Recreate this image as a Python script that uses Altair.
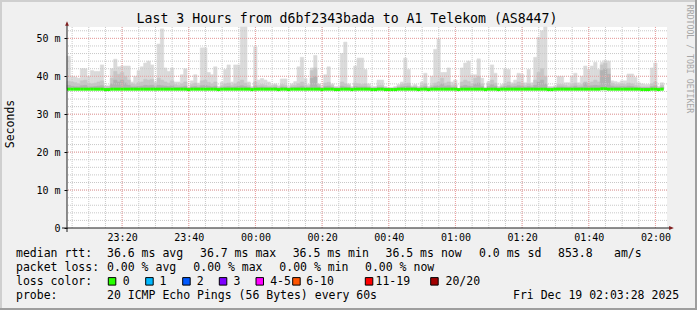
import altair as alt
import pandas as pd

MONO = "DejaVu Sans Mono"

# ---------------- data ----------------
# smoke: top of the ping spread per minute (ms)
ping_max = [
    45.3, 40.0, 39.8, 39.5, 42.0, 42.0, 40.0, 41.5, 41.3, 41.3,
    43.0, 37.5, 37.5, 42.0, 44.5, 42.5, 42.7, 42.7, 42.7, 38.5,
    40.0, 41.5, 42.5, 43.5, 44.0, 43.0, 38.5, 48.5, 52.5, 42.2,
    41.3, 42.2, 38.5, 38.5, 40.4, 42.0, 37.2, 38.8, 40.4, 38.2,
    47.5, 47.5, 41.0, 40.4, 42.5, 37.3, 38.5, 41.8, 43.0, 38.5,
    43.0, 43.0, 53.0, 53.0, 38.5, 37.3, 47.8, 39.0, 39.4, 39.0,
    38.5, 37.8, 38.0, 37.5, 39.3, 39.3, 37.3, 38.0, 38.6, 42.5,
    45.0, 39.4, 37.8, 42.2, 45.5, 38.0, 37.3, 40.4, 42.5, 38.0,
    37.3, 37.3, 46.0, 49.0, 38.0, 37.3, 42.7, 44.8, 44.8, 41.8,
    38.0, 37.3, 37.3, 39.0, 39.0, 37.3, 37.0, 37.0, 37.3, 37.8,
    38.5, 44.8, 41.8, 37.5, 37.8, 37.3, 38.5, 40.8, 37.3, 40.0,
    47.1, 49.8, 41.0, 41.0, 42.2, 38.5, 39.0, 36.8, 42.2, 43.5,
    44.0, 40.4, 40.4, 44.6, 39.5, 37.0, 38.6, 43.0, 40.8, 37.3,
    37.8, 42.0, 41.8, 38.3, 39.0, 40.8, 40.5, 38.3, 41.8, 38.3,
    45.0, 50.3, 52.0, 53.0, 37.3, 37.3, 37.5, 40.0, 40.0, 38.3,
    38.3, 40.0, 40.8, 38.3, 40.0, 42.7, 41.8, 42.7, 43.7, 41.8,
    43.7, 44.2, 44.0, 38.8, 38.6, 38.4, 38.8, 38.8, 40.6, 40.6,
    39.7, 38.3, 38.0, 37.8, 37.8, 42.2, 43.5, 37.3, 38.3,
]
# middle smoke band
ping_mid = [
    38.7, 38.5, 38.3, 38.0, 38.8, 39.0, 38.2, 38.0, 38.2, 38.5,
    38.8, 37.3, 37.3, 39.5, 41.3, 40.5, 41.0, 40.0, 39.0, 38.0,
    37.8, 38.3, 38.5, 39.2, 39.0, 39.2, 37.8, 39.5, 39.0, 38.5,
    38.2, 38.8, 37.8, 37.6, 38.0, 38.5, 37.0, 37.8, 38.2, 37.6,
    38.8, 39.0, 38.4, 38.0, 38.5, 37.0, 37.5, 38.0, 38.2, 37.6,
    38.0, 38.5, 39.0, 38.2, 37.6, 37.0, 38.5, 37.6, 37.8, 37.6,
    37.4, 37.4, 37.6, 37.2, 37.8, 37.6, 37.0, 37.5, 37.6, 38.0,
    38.5, 37.6, 37.4, 41.5, 42.2, 37.8, 37.0, 38.2, 38.4, 37.6,
    37.0, 37.0, 38.5, 38.0, 37.6, 37.0, 38.2, 38.0, 37.8, 38.0,
    37.4, 37.0, 37.0, 37.5, 37.6, 37.0, 36.9, 36.9, 37.0, 37.4,
    37.8, 38.0, 38.2, 37.2, 37.4, 37.0, 37.6, 38.0, 37.0, 37.6,
    38.2, 38.5, 39.5, 38.2, 38.5, 37.6, 37.8, 36.7, 38.5, 39.0,
    38.6, 38.0, 39.5, 40.0, 38.0, 36.9, 38.0, 39.0, 38.2, 37.0,
    37.4, 38.0, 38.5, 37.8, 38.0, 38.5, 38.2, 37.6, 38.0, 37.6,
    39.0, 41.0, 42.0, 40.0, 37.0, 37.0, 37.2, 37.8, 37.8, 37.6,
    37.4, 37.8, 38.2, 37.6, 37.8, 38.5, 38.2, 38.5, 39.0, 38.5,
    43.0, 43.5, 42.0, 38.2, 37.8, 37.8, 38.0, 37.8, 38.2, 38.0,
    37.6, 37.4, 37.2, 37.2, 37.2, 38.0, 38.5, 37.0, 37.6,
]
# dark smoke band next to the median
ping_low = [
    37.6, 37.4, 37.2, 37.2, 37.5, 37.6, 37.2, 37.2, 37.3, 37.4,
    37.5, 36.9, 36.9, 38.0, 39.0, 38.5, 39.0, 38.2, 37.6, 37.2,
    37.2, 37.3, 37.4, 37.6, 37.5, 37.6, 37.2, 37.6, 37.5, 37.4,
    37.3, 37.5, 37.1, 37.1, 37.2, 37.4, 36.9, 37.2, 37.3, 37.1,
    37.5, 37.6, 37.4, 37.2, 37.4, 36.9, 37.1, 37.2, 37.3, 37.1,
    37.2, 37.4, 37.5, 37.3, 37.1, 36.9, 37.4, 37.1, 37.2, 37.1,
    37.0, 37.0, 37.1, 36.9, 37.2, 37.1, 36.9, 37.0, 37.1, 37.2,
    37.4, 37.1, 37.0, 39.5, 40.0, 37.2, 36.9, 37.3, 37.4, 37.1,
    36.9, 36.9, 37.4, 37.2, 37.1, 36.9, 37.3, 37.2, 37.2, 37.2,
    37.0, 36.9, 36.9, 37.0, 37.1, 36.9, 36.8, 36.8, 36.9, 37.0,
    37.2, 37.3, 37.4, 37.0, 37.0, 36.9, 37.1, 37.3, 36.9, 37.1,
    37.4, 37.5, 38.0, 37.4, 37.5, 37.1, 37.2, 36.7, 37.4, 37.6,
    37.4, 37.3, 38.0, 38.2, 37.3, 36.8, 37.3, 37.8, 37.4, 36.9,
    37.0, 37.3, 37.5, 37.2, 37.3, 37.5, 37.4, 37.1, 37.3, 37.1,
    37.6, 38.5, 39.0, 38.0, 36.9, 36.9, 37.0, 37.2, 37.2, 37.1,
    37.0, 37.2, 37.4, 37.1, 37.2, 38.2, 37.4, 37.5, 37.6, 37.5,
    41.5, 42.0, 40.5, 37.4, 37.2, 37.2, 37.3, 37.2, 37.4, 37.3,
    37.1, 37.0, 37.0, 37.0, 37.0, 37.3, 37.5, 36.9, 37.1,
]
# median rtt (green line)
median = [
    36.6, 36.6, 36.6, 36.6, 36.6, 36.6, 36.6, 36.6, 36.6, 36.6,
    36.6, 36.5, 36.5, 36.6, 36.6, 36.6, 36.6, 36.6, 36.6, 36.6,
    36.6, 36.6, 36.6, 36.6, 36.6, 36.6, 36.6, 36.6, 36.6, 36.6,
    36.6, 36.6, 36.6, 36.6, 36.6, 36.6, 36.5, 36.6, 36.6, 36.6,
    36.6, 36.6, 36.6, 36.6, 36.6, 36.5, 36.6, 36.6, 36.6, 36.6,
    36.6, 36.6, 36.6, 36.6, 36.6, 36.5, 36.6, 36.6, 36.6, 36.6,
    36.6, 36.6, 36.6, 36.5, 36.6, 36.6, 36.5, 36.6, 36.6, 36.6,
    36.6, 36.6, 36.6, 36.6, 36.6, 36.6, 36.5, 36.6, 36.6, 36.6,
    36.5, 36.5, 36.6, 36.6, 36.6, 36.5, 36.6, 36.6, 36.6, 36.6,
    36.6, 36.5, 36.5, 36.6, 36.6, 36.5, 36.5, 36.5, 36.5, 36.6,
    36.6, 36.6, 36.6, 36.6, 36.6, 36.5, 36.6, 36.6, 36.5, 36.6,
    36.6, 36.6, 36.6, 36.6, 36.6, 36.6, 36.6, 36.5, 36.6, 36.6,
    36.6, 36.6, 36.6, 36.6, 36.6, 36.5, 36.6, 36.6, 36.6, 36.5,
    36.6, 36.6, 36.6, 36.6, 36.6, 36.6, 36.6, 36.6, 36.6, 36.6,
    36.6, 36.6, 36.6, 36.6, 36.5, 36.5, 36.6, 36.6, 36.6, 36.6,
    36.6, 36.6, 36.6, 36.6, 36.6, 36.6, 36.6, 36.6, 36.6, 36.6,
    36.7, 36.7, 36.6, 36.6, 36.6, 36.6, 36.6, 36.6, 36.6, 36.6,
    36.6, 36.6, 36.5, 36.5, 36.5, 36.6, 36.6, 36.5, 36.6,
]

x_tick_values = [20, 40, 60, 80, 100, 120, 140, 160, 180]   # minutes after 23:00
x_tick_labels = ["23:20", "23:40", "00:00", "00:20", "00:40",
                 "01:00", "01:20", "01:40", "02:00"]
y_tick_values = [0, 10, 20, 30, 40, 50]
y_tick_labels = ["0\u00a0\u00a0", "10 m", "20 m", "30 m", "40 m", "50 m"]

loss_labels = ["0", "1", "2", "3", "4-5", "6-10", "11-19", "20/20"]
loss_colors = ["#26ff00", "#00b8ff", "#0059ff", "#7e00ff",
               "#ff00ff", "#ff5500", "#ff0000", "#a10000"]

title_text = "Last 3 Hours from d6bf2343bada to A1 Telekom (AS8447)"
row_rtt = ["median rtt:", "36.6 ms avg", "36.7 ms max", "36.5 ms min",
           "36.5 ms now", "0.0 ms sd", "853.8", "am/s"]
row_loss = ["packet loss:", "0.00 % avg", "0.00 % max", "0.00 % min", "0.00 % now"]
row_probe = ["probe:", "20 ICMP Echo Pings (56 Bytes) every 60s",
             "Fri Dec 19 02:03:28 2025"]

# ---------------- layout ----------------
W, H = 600, 201
PL, PT = 67, 27
PR, PB = 697 - PL - W, 310 - PT - H

start_min = 3 + 28 / 60.0          # 23:03:28
span = 180
t0 = [start_min + i for i in range(len(ping_max))]
df = pd.DataFrame({
    "t0": t0, "t1": [t + 1 for t in t0],
    "hi": ping_max, "mid": ping_mid, "low": ping_low, "med": median,
})

xs = alt.Scale(domain=[start_min, start_min + span], nice=False, zero=False)
ys = alt.Scale(domain=[0, 53], nice=False, zero=False)


def ternary(values, labels):
    expr = "''"
    for v, l in reversed(list(zip(values, labels))):
        expr = f"datum.value == {v} ? '{l}' : ({expr})"
    return expr


x_axis = alt.Axis(values=x_tick_values, labelExpr=ternary(x_tick_values, x_tick_labels),
                  title=None, domain=False, grid=False, ticks=False,
                  labelFont=MONO, labelFontSize=10, labelColor="#000000",
                  labelPadding=4, labelFlush=False, labelOverlap=False)
y_axis = alt.Axis(values=y_tick_values, labelExpr=ternary(y_tick_values, y_tick_labels),
                  title=None, domain=False, grid=False, ticks=True, tickSize=3,
                  tickColor="#000000", labelFont=MONO, labelFontSize=10,
                  labelColor="#000000", labelPadding=4, labelFlush=False,
                  labelOverlap=False)

base = alt.Chart(df)


def smoke(field, color):
    return base.mark_rect(color=color, stroke=color, strokeWidth=0.6).encode(
        x=alt.X("t0:Q", scale=xs, axis=x_axis),
        x2="t1:Q",
        y=alt.Y(f"{field}:Q", scale=ys, axis=y_axis),
        y2="med:Q",
    )


smoke_hi = smoke("hi", "#dadada")
smoke_mid = smoke("mid", "#c6c6c6")
smoke_low = smoke("low", "#b2b2b2")

minor_x = pd.DataFrame({"v": [m for m in range(5, 185, 5)]})
major_x = pd.DataFrame({"v": x_tick_values})
minor_y = pd.DataFrame({"v": [m for m in range(2, 54, 2)]})
major_y = pd.DataFrame({"v": [10, 20, 30, 40, 50]})

MINOR = "#c8c8c8"
MAJOR = "#eda0a0"
grid_minor_x = alt.Chart(minor_x).mark_rule(color=MINOR, strokeDash=[1, 1], strokeWidth=1).encode(
    x=alt.X("v:Q", scale=xs, axis=x_axis))
grid_minor_y = alt.Chart(minor_y).mark_rule(color=MINOR, strokeDash=[1, 1], strokeWidth=1).encode(
    y=alt.Y("v:Q", scale=ys, axis=y_axis))
grid_major_x = alt.Chart(major_x).mark_rule(color=MAJOR, strokeDash=[1, 1], strokeWidth=1).encode(
    x=alt.X("v:Q", scale=xs, axis=x_axis))
grid_major_y = alt.Chart(major_y).mark_rule(color=MAJOR, strokeDash=[1, 1], strokeWidth=1).encode(
    y=alt.Y("v:Q", scale=ys, axis=y_axis))

median_line = base.mark_rule(color="#26ff00", strokeWidth=3).encode(
    x=alt.X("t0:Q", scale=xs, axis=x_axis),
    x2="t1:Q",
    y=alt.Y("med:Q", scale=ys, axis=y_axis),
)

# ---------------- frame, axis lines, arrows (pixel space) ----------------
def px(v):
    return v - PL


def py(v):
    return v - PT


frame = pd.DataFrame({
    "a": [px(0), px(0), px(695), px(0)],
    "b": [px(697), px(2), px(697), px(697)],
    "c": [py(0), py(0), py(0), py(308)],
    "d": [py(2), py(310), py(310), py(310)],
    "col": ["#cfcfcf", "#cfcfcf", "#9e9e9e", "#9e9e9e"],
})
frame_layer = alt.Chart(frame).mark_rect(strokeWidth=0).encode(
    x=alt.X("a:Q", scale=None, axis=None), x2="b:Q",
    y=alt.Y("c:Q", scale=None, axis=None), y2="d:Q",
    color=alt.Color("col:N", scale=None),
)

axis_lines = pd.DataFrame({
    "a": [px(62), px(67)], "b": [px(670), px(67)],
    "c": [py(228), py(232)], "d": [py(228), py(25)],
})
axis_layer = alt.Chart(axis_lines).mark_rule(color="#1f1f1f", strokeWidth=1).encode(
    x=alt.X("a:Q", scale=None, axis=None), x2="b:Q",
    y=alt.Y("c:Q", scale=None, axis=None), y2="d:Q",
)

arrow_r = alt.Chart(pd.DataFrame({"a": [px(671.5)], "c": [py(228)]})).mark_point(
    shape="M-1,-0.8L1,0L-1,0.8Z", filled=True, color="#7f1f1f", size=22, opacity=1).encode(
    x=alt.X("a:Q", scale=None, axis=None), y=alt.Y("c:Q", scale=None, axis=None))
arrow_u = alt.Chart(pd.DataFrame({"a": [px(67)], "c": [py(23.5)]})).mark_point(
    shape="M-0.8,1L0,-1L0.8,1Z", filled=True, color="#7f1f1f", size=22, opacity=1).encode(
    x=alt.X("a:Q", scale=None, axis=None), y=alt.Y("c:Q", scale=None, axis=None))

# ---------------- texts ----------------
rtt_x = [16, 107, 200, 292.7, 385.5, 479, 558, 614]
loss_x = [16, 107, 193.3, 279.3, 365]
probe_x = [16, 107, 513]
loss_text_x = [122.8, 159.5, 196.8, 233.5, 270.2, 306.2, 375.5, 445.5]
loss_sq_x = [108.3, 145.7, 182.7, 219.3, 256.0, 292.7, 365.3, 430.7]

rows = []
for t, x in zip(row_rtt, rtt_x):
    rows.append({"t": t, "a": px(x), "c": py(254)})
for t, x in zip(row_loss, loss_x):
    rows.append({"t": t, "a": px(x), "c": py(268.3)})
rows.append({"t": "loss color:", "a": px(16), "c": py(281.7)})
for t, x in zip(loss_labels, loss_text_x):
    rows.append({"t": t, "a": px(x), "c": py(281.7)})
for t, x in zip(row_probe, probe_x):
    rows.append({"t": t, "a": px(x), "c": py(296)})
legend_text = alt.Chart(pd.DataFrame(rows)).mark_text(
    font=MONO, fontSize=11.5, align="left", baseline="middle", color="#000000").encode(
    x=alt.X("a:Q", scale=None, axis=None), y=alt.Y("c:Q", scale=None, axis=None), text="t:N")

squares = pd.DataFrame({
    "a": [px(x) for x in loss_sq_x],
    "b": [px(x + 7.5) for x in loss_sq_x],
    "c": [py(277.6)] * len(loss_sq_x),
    "d": [py(285.1)] * len(loss_sq_x),
    "col": loss_colors,
})
square_layer = alt.Chart(squares).mark_rect(stroke="#000000", strokeWidth=1).encode(
    x=alt.X("a:Q", scale=None, axis=None), x2="b:Q",
    y=alt.Y("c:Q", scale=None, axis=None), y2="d:Q",
    color=alt.Color("col:N", scale=None),
)

title_layer = alt.Chart(pd.DataFrame({"t": [title_text], "a": [px(347)], "c": [py(19)]})).mark_text(
    font=MONO, fontSize=13.2, align="center", baseline="middle", color="#000000").encode(
    x=alt.X("a:Q", scale=None, axis=None), y=alt.Y("c:Q", scale=None, axis=None), text="t:N")

ytitle_layer = alt.Chart(pd.DataFrame({"t": ["Seconds"], "a": [px(10.5)], "c": [py(124)]})).mark_text(
    font=MONO, fontSize=11.5, align="center", baseline="middle", angle=270, color="#000000").encode(
    x=alt.X("a:Q", scale=None, axis=None), y=alt.Y("c:Q", scale=None, axis=None), text="t:N")

credit_layer = alt.Chart(pd.DataFrame({"t": ["RRDTOOL / TOBI OETIKER"], "a": [px(688.5)], "c": [py(59)]})).mark_text(
    font=MONO, fontSize=8.2, align="center", baseline="middle", angle=90, color="#a6a6a6").encode(
    x=alt.X("a:Q", scale=None, axis=None), y=alt.Y("c:Q", scale=None, axis=None), text="t:N")

chart = alt.layer(
    smoke_hi, smoke_mid, smoke_low,
    grid_minor_x, grid_minor_y, grid_major_x, grid_major_y,
    median_line,
    frame_layer, axis_layer, arrow_r, arrow_u,
    legend_text, square_layer, title_layer, ytitle_layer, credit_layer,
).properties(
    width=W, height=H,
    autosize=alt.AutoSizeParams(type="none"),
    padding={"left": PL, "top": PT, "right": PR, "bottom": PB},
    background="#f0f0f0",
).configure_view(fill="#ffffff", strokeWidth=0)

chart.save("out.html", embed_options={"renderer": "svg", "actions": False})
